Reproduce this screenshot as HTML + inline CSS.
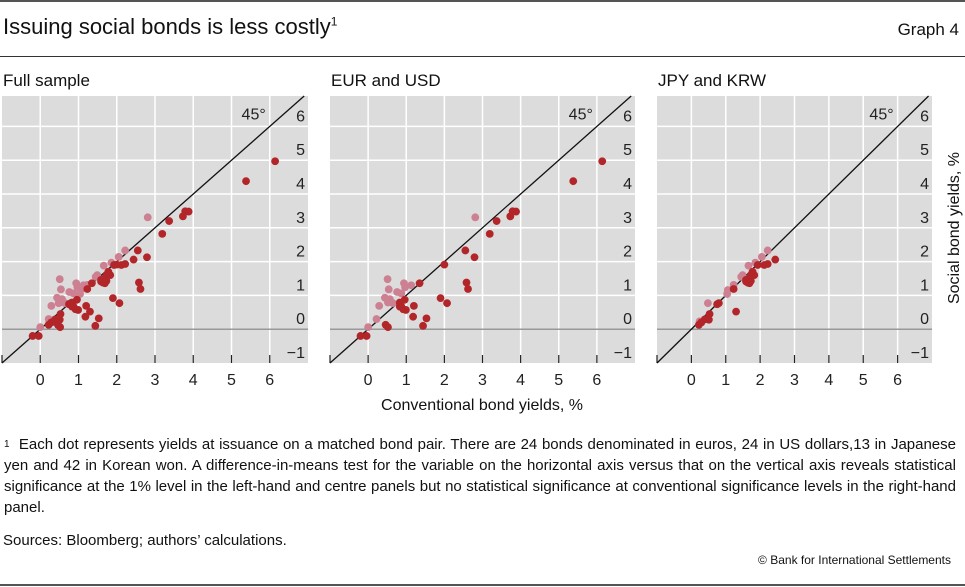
<!DOCTYPE html>
<html><head><meta charset="utf-8">
<style>
body{margin:0;width:965px;height:587px;background:#fff;font-family:"Liberation Sans",sans-serif;color:#111;position:relative;overflow:hidden}
.abs{position:absolute}
.fn{position:absolute;left:4px;width:952px;font-size:15px;line-height:21px;text-align:justify}
</style></head><body>
<div class="abs" style="left:0;top:0;width:965px;height:2px;background:#555"></div>
<div class="abs" style="left:3px;top:14px;font-size:22px">Issuing social bonds is less costly<sup style="font-size:12px">1</sup></div>
<div class="abs" style="right:6px;top:20px;font-size:17px">Graph 4</div>
<div class="abs" style="left:0;top:56px;width:965px;height:1px;background:#333"></div>
<svg class="abs" style="left:0;top:0" width="965" height="420" id="chart"></svg>
<div class="fn" style="top:434px"><span style="font-size:10px;vertical-align:top">1</span>&nbsp; Each dot represents yields at issuance on a matched bond pair. There are 24 bonds denominated in euros, 24 in US dollars,13 in Japanese yen and 42 in Korean won. A difference-in-means test for the variable on the horizontal axis versus that on the vertical axis reveals statistical significance at the 1% level in the left-hand and centre panels but no statistical significance at conventional significance levels in the right-hand panel.</div>
<div class="abs" style="left:3px;top:532px;font-size:15px">Sources: Bloomberg; authors’ calculations.</div>
<div class="abs" style="right:14px;top:553px;font-size:12px">© Bank for International Settlements</div>
<div class="abs" style="left:0;top:584px;width:965px;height:2px;background:#555"></div>
<script>
const euDarkX=[-0.2,-0.04,0.46,0.52,0.96,0.83,0.87,0.92,0.83,0.99,1.2,1.18,1.44,1.53,1.35,1.9,2.07,2.0,2.55,2.79,2.58,2.62,3.19,3.37,3.73,3.79,3.88,5.38,6.14];
const euDarkY=[-0.2,-0.2,0.13,0.06,0.87,0.79,0.67,0.59,0.67,0.57,0.69,0.37,0.1,0.32,1.36,0.92,0.77,1.91,2.33,2.13,1.38,1.19,2.82,3.2,3.34,3.49,3.48,4.38,4.97];
const euPinkX=[0.51,0.54,0.94,0.97,1.13,0.76,0.44,0.57,0.52,0.29,0.22,0.0,2.81,0.65,0.87];
const euPinkY=[1.48,1.18,1.36,1.24,1.3,1.1,0.93,0.89,0.79,0.69,0.3,0.06,3.31,0.77,1.06];
const asDarkX=[0.22,0.29,0.39,0.48,0.53,0.51,0.75,0.8,1.23,1.3,1.59,1.64,1.69,1.73,1.78,1.83,1.69,1.93,2.12,2.22,2.44,1.59,1.73];
const asDarkY=[0.13,0.2,0.29,0.32,0.45,0.28,0.74,0.77,1.19,0.52,1.46,1.38,1.5,1.6,1.7,1.6,1.36,1.9,1.9,1.93,2.06,1.41,1.43];
const asPinkX=[0.48,0.24,1.06,1.04,1.23,1.45,1.66,1.86,2.05,2.22,1.49];
const asPinkY=[0.77,0.23,1.16,1.04,1.31,1.55,1.88,1.97,2.14,2.33,1.6];
const xTicks=[0,1,2,3,4,5,6];
const yTicks=[-1,0,1,2,3,4,5,6];
const panelTitles=["Full sample","EUR and USD","JPY and KRW"];
const NS="http://www.w3.org/2000/svg";
const svg=document.getElementById('chart');
function mk(t,a,p){const e=document.createElementNS(NS,t);for(const k in a)e.setAttribute(k,a[k]);(p||svg).appendChild(e);return e;}
const panels=[{l:2,r:308,sets:[[euDarkX,euDarkY],[asDarkX,asDarkY]],pink:[[euPinkX,euPinkY],[asPinkX,asPinkY]]},
{l:330,r:635,sets:[[euDarkX,euDarkY]],pink:[[euPinkX,euPinkY]]},
{l:657,r:932,sets:[[asDarkX,asDarkY]],pink:[[asPinkX,asPinkY]]}];
const yTop=96,yBot=363,ymin=-1,ymax=6.9;
panels.forEach((P,i)=>{
  const g=mk('g',{});
  
  
  const sx=v=>P.l+(v+1)/8*(P.r-P.l);
  const sy=v=>yBot-(v-ymin)/(ymax-ymin)*(yBot-yTop);
  const t=mk('text',{x:P.l+1,y:86,'font-size':17,fill:'#111'},g);t.textContent=panelTitles[i];
  
  
  mk('rect',{x:P.l,y:yTop,width:P.r-P.l,height:yBot-yTop,fill:'#dcdcdc'},g);
  xTicks.forEach(v=>mk('line',{x1:sx(v),x2:sx(v),y1:yTop,y2:yBot,stroke:'#fff','stroke-width':1.5},g));
  yTicks.forEach(v=>{if(v>-1)mk('line',{x1:P.l,x2:P.r,y1:sy(v),y2:sy(v),stroke:v==0?'#999':'#fff','stroke-width':1.5},g);});
  [-1].concat(xTicks).forEach(v=>{mk('line',{x1:sx(v),x2:sx(v),y1:yBot-8,y2:yBot,stroke:'#222','stroke-width':1.2},g);
    if(v>=0){const tx=mk('text',{x:sx(v),y:385,'font-size':16,'text-anchor':'middle',fill:'#222'},g);tx.textContent=v;
    
    }});
  yTicks.forEach(v=>{const ty=mk('text',{x:P.r-3,y:sy(v)-5,'font-size':16,'text-anchor':'end',fill:'#222'},g);ty.textContent=v<0?'−1':v;
    
    });
  mk('line',{x1:sx(-1),y1:sy(-1),x2:sx(6.9),y2:sy(6.9),stroke:'#111','stroke-width':1.3},g);
  const l45=mk('text',{x:sx(6)-4,y:sy(6)-7,'font-size':16,'text-anchor':'end',fill:'#222'},g);l45.textContent='45°';
  
  
  P.pink.forEach(([X,Y])=>X.forEach((x,k)=>{const c=mk('circle',{cx:sx(x),cy:sy(Y[k]),r:3.9,fill:'#cc8092'},g);
    
    }));
  P.sets.forEach(([X,Y])=>X.forEach((x,k)=>{const c=mk('circle',{cx:sx(x),cy:sy(Y[k]),r:3.9,fill:'#b2262a'},g);
    
    }));
});
const xl=mk('text',{x:482,y:410,'font-size':16,'text-anchor':'middle',fill:'#111'});xl.textContent='Conventional bond yields, %';


const yl=mk('text',{x:0,y:0,'font-size':16,'text-anchor':'middle',fill:'#111',transform:'translate(959,228) rotate(-90)'});yl.textContent='Social bond yields, %';


</script>
</body></html>
